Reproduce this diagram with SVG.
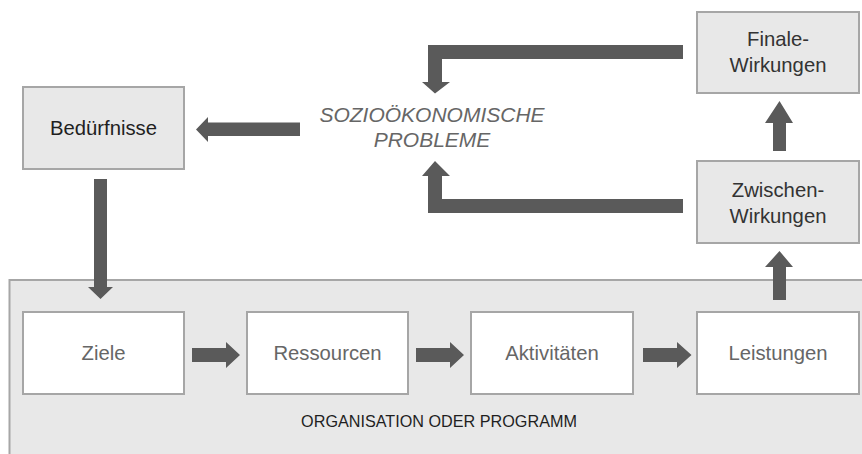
<svg xmlns="http://www.w3.org/2000/svg" width="862" height="454" viewBox="0 0 862 454">
<style>
.box{fill:#e8e8e8;stroke:#a6a6a6;stroke-width:2}
.wbox{fill:#ffffff;stroke:#a6a6a6;stroke-width:2}
.t{font-family:"Liberation Sans",Arial,sans-serif;font-size:20.3px;text-anchor:middle}
.dark{fill:#1f1f1f}
.mid{fill:#333333}
.gray{fill:#666666}
.arr{fill:#5a5a5a}
</style>
<rect width="862" height="454" fill="#ffffff"/>
<g id="organisation">
<rect x="9.5" y="280" width="870" height="200" class="box"/>
<text x="439" y="427" class="t dark" style="font-size:16.2px">ORGANISATION ODER PROGRAMM</text>
</g>
<g id="beduerfnisse">
<rect x="23" y="87" width="161" height="82" class="box"/>
<text x="103.5" y="135" class="t dark">Bedürfnisse</text>
</g>
<g id="sozio">
<text x="432" y="121.5" class="t gray" font-style="italic" style="font-size:21px">SOZIOÖKONOMISCHE</text>
<text x="432" y="146.5" class="t gray" font-style="italic" style="font-size:21px">PROBLEME</text>
</g>
<g id="finale">
<rect x="697" y="12" width="162" height="81" class="box"/>
<text x="778" y="46" class="t mid">Finale-</text>
<text x="778" y="72" class="t mid">Wirkungen</text>
</g>
<g id="zwischen">
<rect x="697" y="161" width="162" height="82" class="box"/>
<text x="778" y="197" class="t mid">Zwischen-</text>
<text x="778" y="223" class="t mid">Wirkungen</text>
</g>
<g id="ziele">
<rect x="23" y="312" width="161" height="82" class="wbox"/>
<text x="103.5" y="360" class="t gray">Ziele</text>
</g>
<g id="ressourcen">
<rect x="247" y="312" width="161" height="82" class="wbox"/>
<text x="327.5" y="360" class="t gray">Ressourcen</text>
</g>
<g id="aktivitaeten">
<rect x="471" y="312" width="162" height="82" class="wbox"/>
<text x="552" y="360" class="t gray">Aktivitäten</text>
</g>
<g id="leistungen">
<rect x="697" y="312" width="162" height="82" class="wbox"/>
<text x="778" y="360" class="t gray">Leistungen</text>
</g>
<g id="connectors" class="arr">
<polygon points="300,122.5 208,122.5 208,117 196,129.5 208,142 208,136 300,136"/>
<polygon points="94,179 107,179 107,287 113,287 100.5,299 88,287 94,287"/>
<polygon points="192,348 226,348 226,342 240,355 226,368 226,362 192,362"/>
<polygon points="416,348 450,348 450,342 464,355 450,368 450,362 416,362"/>
<polygon points="643,348 677,348 677,342 691.5,355 677,368 677,362 643,362"/>
<polygon points="773,300 786,300 786,267 793,267 779.5,251 765,267 773,267"/>
<polygon points="773,151 786,151 786,123 793,123 779.5,101 765,123 773,123"/>
<polygon points="683,45 428,45 428,82 422,82 435,93.5 450,82 442,82 442,59 683,59"/>
<polygon points="683,213 428,213 428,176 422,176 435,161 450,176 442,176 442,199 683,199"/>
</g>
</svg>
